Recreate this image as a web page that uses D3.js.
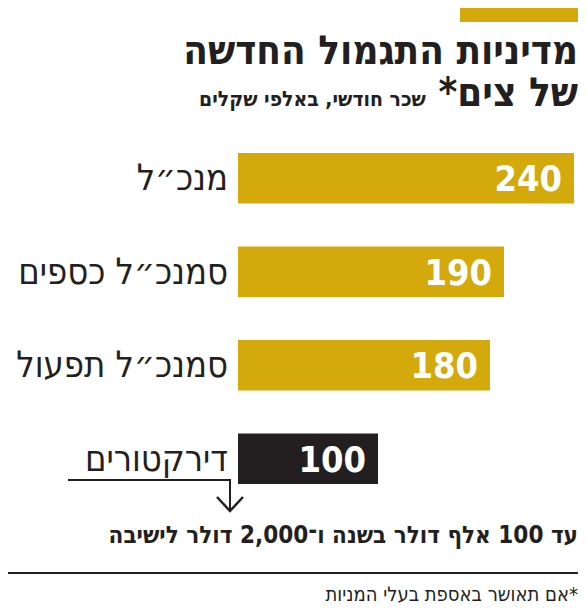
<!DOCTYPE html>
<html><head><meta charset="utf-8">
<script src="https://cdn.jsdelivr.net/npm/d3@7"></script>
<style>body{margin:0;background:#fff}</style>
</head><body>
<script>
// monthly pay, thousands of shekels
const categories = ['מנכ״ל', 'סמנכ״ל כספים', 'סמנכ״ל תפעול', 'דירקטורים'];
const values = [240, 190, 180, 100];
const colors = ['#d4a90c', '#d4a90c', '#d4a90c', '#231f20'];

const W = 587, H = 614;
const svg = d3.select('body').append('svg').attr('width', W).attr('height', H)
    .style('font-family', '"DejaVu Sans Condensed", "Liberation Sans Narrow", sans-serif');

// right-anchored hebrew text
function rtext(xp, yp, size, bold) {
    return svg.append('text').attr('x', xp).attr('y', yp)
        .attr('direction', 'rtl').attr('text-anchor', 'start')
        .attr('font-size', size).attr('font-weight', bold ? 'bold' : 'normal').attr('fill', '#231f20');
}

svg.append('rect').attr('x', 460).attr('y', 8).attr('width', 118).attr('height', 14).attr('fill', '#d4a90c');

rtext(578, 64, 40, true).text('מדיניות התגמול החדשה');
const t2 = rtext(578, 106, 40, true);
t2.append('tspan').text('של צים* ');
t2.append('tspan').attr('font-size', 21).text('שכר חודשי, באלפי שקלים');

const x = d3.scaleLinear().domain([0, 240]).range([238, 574]);
const y = d3.scaleBand().domain(categories).range([153, 484]).paddingInner(0.46);

svg.selectAll('rect.bar').data(categories).join('rect')
    .attr('x', x(0)).attr('y', d => y(d))
    .attr('width', (d, i) => x(values[i]) - x(0)).attr('height', y.bandwidth())
    .attr('fill', (d, i) => colors[i]);
svg.selectAll('text.val').data(categories).join('text')
    .attr('x', (d, i) => x(values[i]) - 12).attr('y', d => y(d) + y.bandwidth() / 2 + 13)
    .attr('text-anchor', 'end').attr('fill', '#fff').attr('font-weight', 'bold').attr('font-size', 36)
    .text((d, i) => values[i]);
categories.forEach(d => rtext(228, y(d) + y.bandwidth() / 2 + 12, 36, false).text(d));

// arrow under directors
const ly = 480;
svg.append('path').attr('d', `M68,${ly}H230V510`).attr('fill', 'none').attr('stroke', '#231f20').attr('stroke-width', 2);
svg.append('path').attr('d', 'M217,497L230,511L243,497').attr('fill', 'none').attr('stroke', '#231f20').attr('stroke-width', 2.5);

rtext(578, 543, 24, true).text('עד 100 אלף דולר בשנה ו־2,000 דולר לישיבה');

svg.append('line').attr('x1', 8).attr('x2', 578).attr('y1', 573).attr('y2', 573).attr('stroke', '#231f20').attr('stroke-width', 2);
rtext(578, 601, 20, false).text('*אם תאושר באספת בעלי המניות');
</script>
</body></html>
